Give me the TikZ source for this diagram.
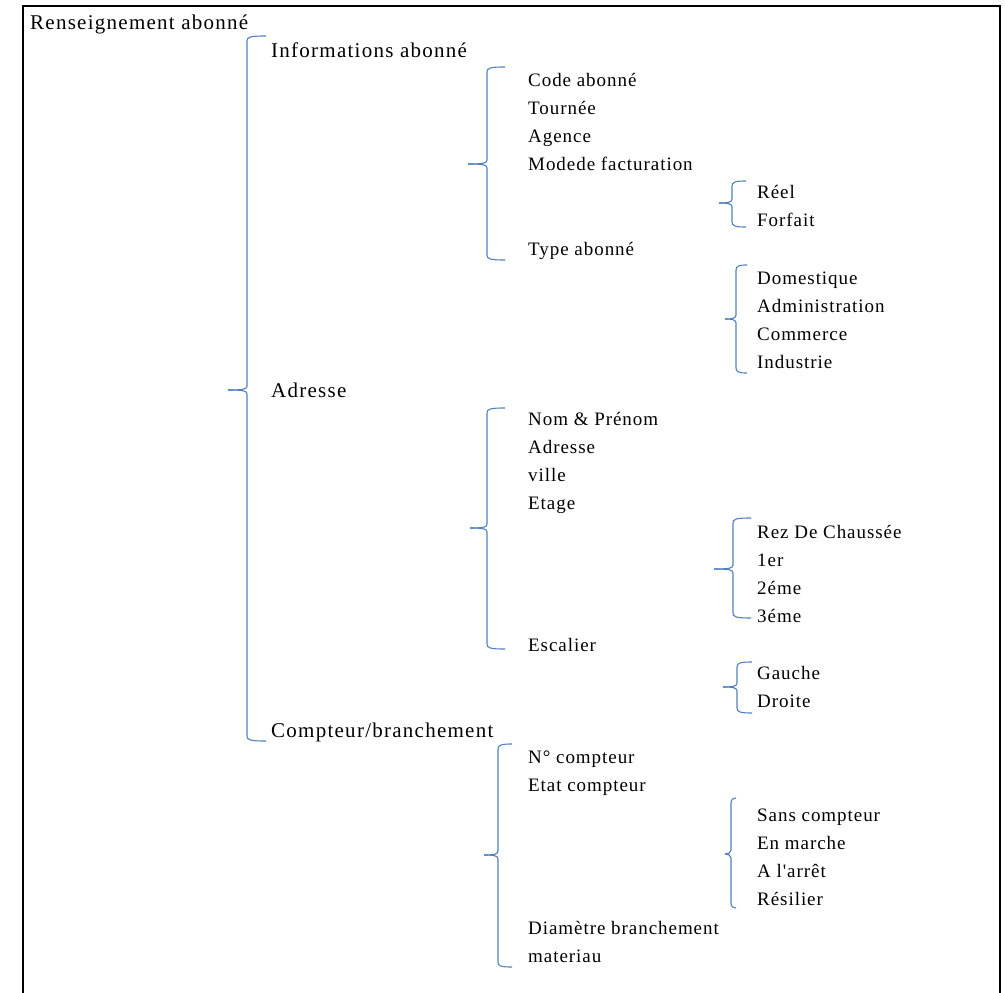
\documentclass[tikz,border=0pt]{standalone}
\usepackage{fontspec}
\setmainfont{Liberation Serif}
\newfontfamily\bigfont[LetterSpace=6]{Liberation Serif}
\newfontfamily\smallfont[LetterSpace=5]{Liberation Serif}
\definecolor{brblue}{RGB}{79,129,189}
\newcommand\mybrace[6]{%
  \draw[brace] (#6,#2) .. controls (#1+3,#2) and (#1,#2+1) .. (#1,#2+5)
    -- (#1,#3-4) .. controls (#1,#3-1) and (#1-3,#3) .. (#5,#3);
  \draw[brace] (#5,#3) .. controls (#1-3,#3) and (#1,#3+1) .. (#1,#3+4)
    -- (#1,#4-5) .. controls (#1,#4-1) and (#1+3,#4) .. (#6,#4);
}
\begin{document}
\begin{tikzpicture}[x=1pt,y=-1pt,
  brace/.style={draw=brblue,line width=1.1pt},
  frame/.style={draw=black,line width=2.6pt},
  big/.style={anchor=base west,inner sep=0pt,font={\bigfont\fontsize{21}{25}\selectfont}},
  small/.style={anchor=base west,inner sep=0pt,font={\smallfont\fontsize{19}{23}\selectfont}}]
\useasboundingbox (0,0) rectangle (1005,993);
\draw[frame] (23,993) -- (23,6) -- (1000,6) -- (1000,993);

% level 0 / 1
\node[big] (root) at (30,29.5) {Renseignement abonné};
\node[big] (info) at (271,57) {Informations abonné};
\node[big] (adr) at (271,397) {Adresse};
\node[big] (cpt) at (271,737) {Compteur/branchement};

% informations
\node[small] (code) at (528,86) {Code abonné};
\node[small] (tour) at (528,114) {Tournée};
\node[small] (agen) at (528,142) {Agence};
\node[small] (mode) at (528,170) {Modede facturation};
\node[small] (type) at (528,255) {Type abonné};
\node[small] (reel) at (757,198.5) {Réel};
\node[small] (forf) at (757,226.5) {Forfait};
\node[small] (dom) at (757,284) {Domestique};
\node[small] (adm) at (757,312) {Administration};
\node[small] (com) at (757,340) {Commerce};
\node[small] (ind) at (757,368.5) {Industrie};

% adresse
\node[small] (nom) at (528,425.5) {Nom \& Prénom};
\node[small] (adr2) at (528,453.5) {Adresse};
\node[small] (vil) at (528,481.5) {ville};
\node[small] (eta) at (528,509.5) {Etage};
\node[small] (esc) at (528,651.5) {Escalier};
\node[small] (rez) at (757,538.5) {Rez De Chaussée};
\node[small] (e1) at (757,566.5) {1er};
\node[small] (e2) at (757,594.5) {2éme};
\node[small] (e3) at (757,622.5) {3éme};
\node[small] (gau) at (757,679.5) {Gauche};
\node[small] (dro) at (757,707.5) {Droite};

% compteur
\node[small] (num) at (528,763.5) {N° compteur};
\node[small] (etc) at (528,791.5) {Etat compteur};
\node[small] (dia) at (528,934.5) {Diamètre branchement};
\node[small] (mat) at (528,962.5) {materiau};
\node[small] (sans) at (757,821.5) {Sans compteur};
\node[small] (enm) at (757,849.5) {En marche};
\node[small] (arr) at (757,877.5) {A l'arrêt};
\node[small] (res) at (757,905.5) {Résilier};

% braces: vx, top, mid, bottom, tip x, tick end x
\mybrace{247}{36}{390}{741}{228}{266}
\mybrace{487}{67}{164}{260}{468}{505}
\mybrace{732}{181}{203}{227}{719}{746}
\mybrace{736}{265}{319}{373}{725}{747}
\mybrace{487}{408}{528}{649}{470}{505}
\mybrace{733}{518}{569}{618}{714}{751}
\mybrace{737}{662}{687}{713}{723}{752}
\mybrace{498}{744}{855}{967}{484}{512}
\mybrace{731}{798}{854}{908}{725}{736}
\end{tikzpicture}
\end{document}
